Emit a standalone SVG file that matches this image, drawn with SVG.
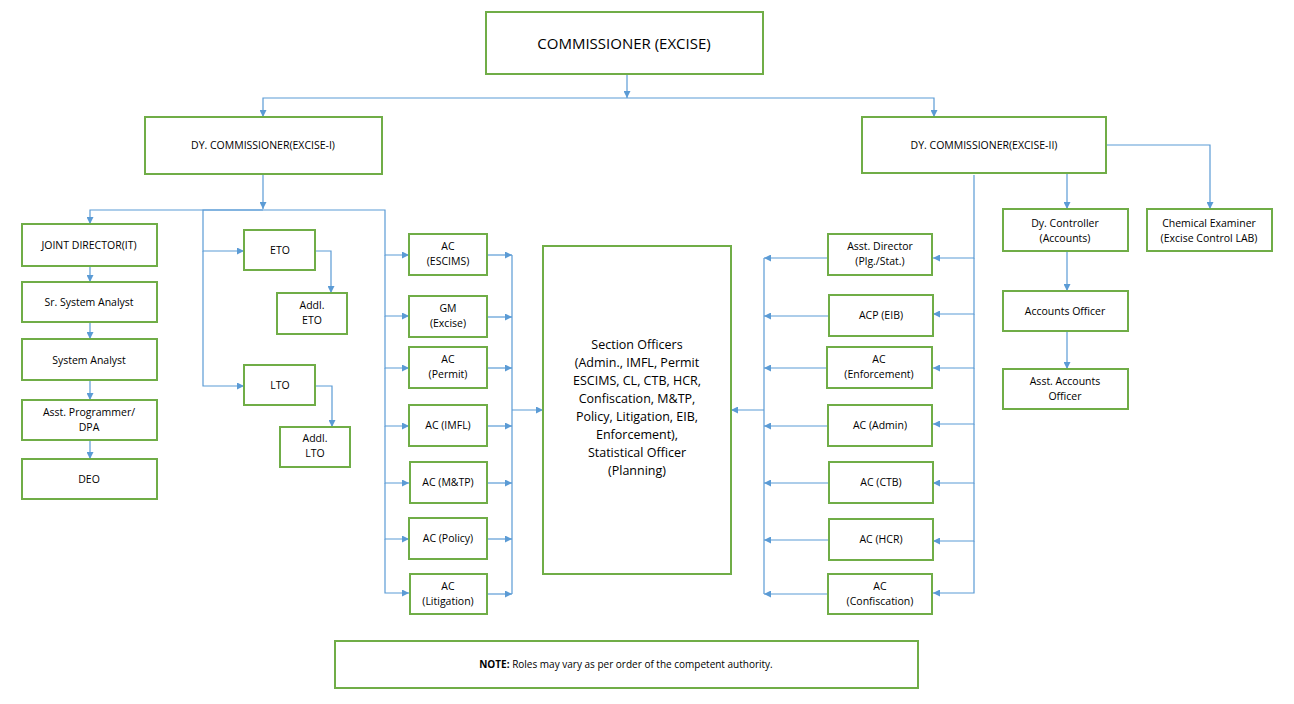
<svg xmlns="http://www.w3.org/2000/svg" width="1294" height="704" viewBox="0 0 1294 704">
<style>
.n rect{fill:#fff;stroke:#70ad47;stroke-width:2}
text{font-family:"Open Sans","Liberation Sans",sans-serif;font-size:10.5px;fill:#000;text-anchor:middle}
.c path{fill:none;stroke:#5b9bd5;stroke-width:1.2}
</style>
<defs><marker id="a" viewBox="0 0 10 10" refX="10" refY="5" markerWidth="7" markerHeight="7" orient="auto" markerUnits="userSpaceOnUse"><path d="M0,0L10,5L0,10z" fill="#5b9bd5"/></marker></defs>
<rect width="1294" height="704" fill="#fff"/>
<g class="c" marker-end="url(#a)">
<path d="M627,74V98"/><path d="M627,98H263V117"/><path d="M627,98H934V117"/>
<path d="M263,174V209"/><path d="M263,210H90V224"/>
<path d="M90,266V282"/><path d="M90,322V339"/><path d="M90,380V400"/><path d="M90,440V459"/>
<path d="M263,210H203V251H244"/><path d="M203,251V386H244"/>
<path d="M315,251H331V293"/><path d="M315,386H332V427"/>
<path d="M263,210H385V255H409"/><path d="M385,255V316H409"/><path d="M385,316V368H409"/><path d="M385,368V426H409"/><path d="M385,426V483H409"/><path d="M385,483V539H409"/><path d="M385,539V593H409"/>
<path d="M487,255H512"/><path d="M487,317H512"/><path d="M487,368H512"/><path d="M487,426H512"/><path d="M487,483H512"/><path d="M487,539H512"/><path d="M487,594H512"/>
<path d="M512,255V594M512,410H543"/>
<path d="M974,175V258H933"/><path d="M974,258V314H933"/><path d="M974,314V368H933"/><path d="M974,368V424H933"/><path d="M974,424V483H933"/><path d="M974,483V541H933"/><path d="M974,541V593H933"/>
<path d="M828,258H764"/><path d="M828,316H764"/><path d="M828,368H764"/><path d="M828,426H764"/><path d="M828,483H764"/><path d="M828,540H764"/><path d="M828,594H764"/>
<path d="M764,258V594M764,410H731"/>
<path d="M1067,173V209"/><path d="M1106,145H1210V209"/><path d="M1067,251V291"/><path d="M1067,331V369"/>
</g>
<g class="n">
<g id="comm"><rect x="486" y="12" width="277" height="62"/><text x="624" y="49" style="font-size:15px">COMMISSIONER (EXCISE)</text></g>
<g id="dc1"><rect x="145" y="117" width="237" height="57"/><text x="263" y="149">DY. COMMISSIONER(EXCISE-I)</text></g>
<g id="dc2"><rect x="862" y="117" width="244" height="56"/><text x="984" y="149">DY. COMMISSIONER(EXCISE-II)</text></g>
<g id="jd"><rect x="22" y="224" width="135" height="42"/><text x="89" y="249">JOINT DIRECTOR(IT)</text></g>
<g id="ssa"><rect x="22" y="282" width="135" height="40"/><text x="89" y="306">Sr. System Analyst</text></g>
<g id="sa"><rect x="22" y="339" width="135" height="41"/><text x="89" y="364">System Analyst</text></g>
<g id="ap"><rect x="22" y="400" width="135" height="40"/><text x="89" y="416">Asst. Programmer/</text><text x="89" y="431">DPA</text></g>
<g id="deo"><rect x="22" y="459" width="135" height="40"/><text x="89" y="483">DEO</text></g>
<g id="eto"><rect x="244" y="230" width="71" height="40"/><text x="280" y="254">ETO</text></g>
<g id="aeto"><rect x="277" y="293" width="70" height="41"/><text x="312" y="309">Addl.</text><text x="312" y="324">ETO</text></g>
<g id="lto"><rect x="244" y="365" width="71" height="40"/><text x="280" y="389">LTO</text></g>
<g id="alto"><rect x="280" y="427" width="70" height="40"/><text x="315" y="442">Addl.</text><text x="315" y="457">LTO</text></g>
<g id="escims"><rect x="409" y="234" width="78" height="41"/><text x="448" y="250">AC</text><text x="448" y="265">(ESCIMS)</text></g>
<g id="gm"><rect x="409" y="296" width="78" height="41"/><text x="448" y="312">GM</text><text x="448" y="327">(Excise)</text></g>
<g id="permit"><rect x="409" y="347" width="78" height="41"/><text x="448" y="363">AC</text><text x="448" y="378">(Permit)</text></g>
<g id="imfl"><rect x="409" y="405" width="78" height="41"/><text x="448" y="429">AC (IMFL)</text></g>
<g id="mtp"><rect x="410" y="462" width="77" height="41"/><text x="448" y="486">AC (M&amp;TP)</text></g>
<g id="policy"><rect x="409" y="518" width="78" height="41"/><text x="448" y="542">AC (Policy)</text></g>
<g id="lit"><rect x="410" y="574" width="77" height="40"/><text x="448" y="590">AC</text><text x="448" y="605">(Litigation)</text></g>
<g id="so"><rect x="543" y="246" width="188" height="328"/>
<text x="637" y="349" style="font-size:12.5px">Section Officers</text>
<text x="637" y="367" style="font-size:12.5px">(Admin., IMFL, Permit</text>
<text x="637" y="385" style="font-size:12.5px">ESCIMS, CL, CTB, HCR,</text>
<text x="637" y="403" style="font-size:12.5px">Confiscation, M&amp;TP,</text>
<text x="637" y="421" style="font-size:12.5px">Policy, Litigation, EIB,</text>
<text x="637" y="439" style="font-size:12.5px">Enforcement),</text>
<text x="637" y="457" style="font-size:12.5px">Statistical Officer</text>
<text x="637" y="475" style="font-size:12.5px">(Planning)</text></g>
<g id="ad"><rect x="828" y="234" width="104" height="41"/><text x="880" y="250">Asst. Director</text><text x="880" y="265">(Plg./Stat.)</text></g>
<g id="acp"><rect x="829" y="295" width="104" height="41"/><text x="881" y="319">ACP (EIB)</text></g>
<g id="enf"><rect x="827" y="347" width="105" height="41"/><text x="879" y="363">AC</text><text x="879" y="378">(Enforcement)</text></g>
<g id="admin"><rect x="828" y="405" width="104" height="41"/><text x="880" y="429">AC (Admin)</text></g>
<g id="ctb"><rect x="829" y="462" width="104" height="41"/><text x="881" y="486">AC (CTB)</text></g>
<g id="hcr"><rect x="829" y="519" width="104" height="41"/><text x="881" y="543">AC (HCR)</text></g>
<g id="conf"><rect x="828" y="574" width="104" height="40"/><text x="880" y="590">AC</text><text x="880" y="605">(Confiscation)</text></g>
<g id="dyc"><rect x="1003" y="209" width="125" height="42"/><text x="1065" y="227">Dy. Controller</text><text x="1065" y="242">(Accounts)</text></g>
<g id="chem"><rect x="1147" y="209" width="125" height="42"/><text x="1209" y="227">Chemical Examiner</text><text x="1209" y="242">(Excise Control LAB)</text></g>
<g id="ao"><rect x="1003" y="291" width="125" height="40"/><text x="1065" y="315">Accounts Officer</text></g>
<g id="aao"><rect x="1003" y="369" width="125" height="40"/><text x="1065" y="385">Asst. Accounts</text><text x="1065" y="400">Officer</text></g>
<g id="note"><rect x="335" y="641" width="583" height="47"/><text x="626" y="668" style="font-size:10px"><tspan font-weight="bold">NOTE:</tspan> Roles may vary as per order of the competent authority.</text></g>
</g>
</svg>
